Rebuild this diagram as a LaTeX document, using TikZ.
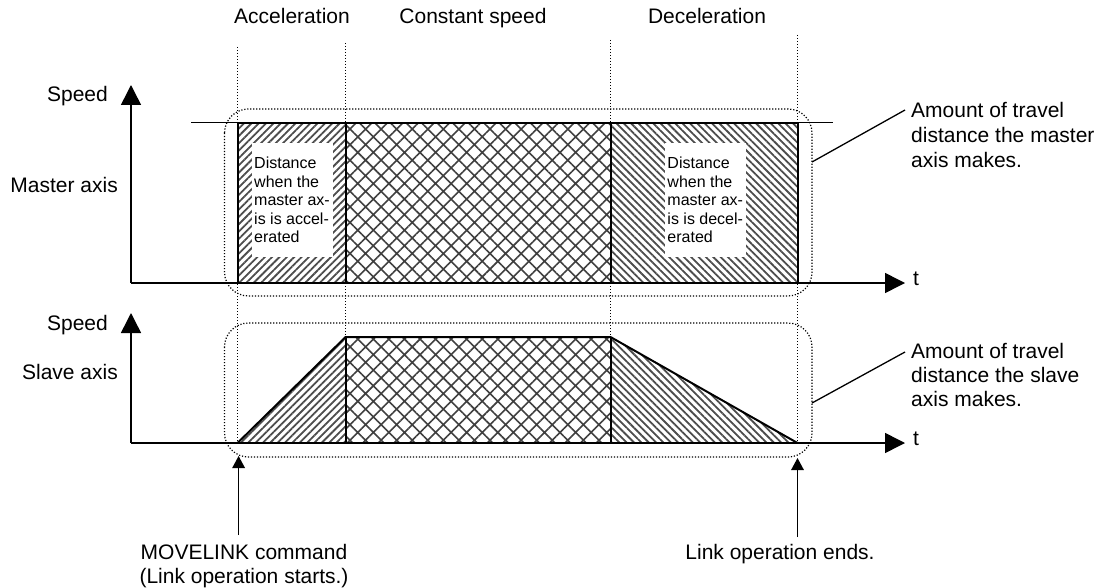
\documentclass[tikz,border=0pt]{standalone}
\usepackage{fontspec}
\setmainfont{Liberation Sans}
\usetikzlibrary{arrows.meta,patterns.meta}
\begin{document}
\begin{tikzpicture}[x=1pt,y=-1pt,
  big/.style={font=\fontsize{21}{24.5}\selectfont, inner sep=0pt},
  smalltxt/.style={font=\fontsize{16}{18.5}\selectfont, inner sep=0pt, fill=white, minimum width=81pt, minimum height=114pt, align=left},
  axisarrow/.style={line width=1.5pt, -{Triangle[length=20pt,width=20pt]}},
  ptr/.style={line width=1.5pt, -{Triangle[length=12pt,width=12.5pt]}},
  guide/.style={line width=1.2pt, dash pattern=on 1.2pt off 1.8pt},
  accel/.style={pattern={Lines[angle=45,distance=5.2pt,line width=1.8pt]}, pattern color=black!70},
  decel/.style={pattern={Lines[angle=-45,distance=5.2pt,line width=1.8pt]}, pattern color=black!70},
  const/.style={pattern={Hatch[angle=45,distance=11pt,line width=1.6pt]}, pattern color=black!75},
  outline/.style={line width=2pt, line join=miter},
  leader/.style={line width=1.3pt},
]
\useasboundingbox (0,0) rectangle (1099,588);

% coordinates
\coordinate (o1) at (131,283);
\coordinate (y1) at (131,85);
\coordinate (x1) at (905,283);
\coordinate (o2) at (131,443);
\coordinate (y2) at (131,313);
\coordinate (x2) at (905,443);

% fills top
\path[accel] (237.5,122.7) rectangle (345.6,283);
\path[const] (345.6,122.7) rectangle (610.5,283);
\path[decel] (610.5,122.7) rectangle (797.5,283);
% fills bottom
\path[accel] (237.5,443) -- (345.6,337) -- (345.6,443) -- cycle;
\path[const] (345.6,337) rectangle (610.5,443);
\path[decel] (610.5,337) -- (797.5,443) -- (610.5,443) -- cycle;

% guides
\draw[guide] (237.5,47) -- (237.5,443);
\draw[guide] (345.6,43) -- (345.6,337);
\draw[guide] (610.5,40) -- (610.5,337);
\draw[guide] (797.5,35) -- (797.5,443);
\draw[guide, rounded corners=24pt] (224.5,109) rectangle (812,296);
\draw[guide, rounded corners=24pt] (224.5,323) rectangle (812,457);

% text boxes
\node[smalltxt] (ta) at (292,200) {Distance\\when the\\master ax-\\is is accel-\\erated};
\node[smalltxt] (td) at (705.25,200) {Distance\\when the\\master ax-\\is is decel-\\erated};

% outlines top
\draw[leader] (191,122.7) -- (832.5,122.7);
\draw[outline] (237.5,122.7) rectangle (797.5,283);
\draw[outline] (345.6,122.7) -- (345.6,283);
\draw[outline] (610.5,122.7) -- (610.5,283);
% outlines bottom
\draw[outline] (237.5,443) -- (345.6,337) -- (610.5,337) -- (797.5,443);
\draw[outline] (345.6,337) -- (345.6,443);
\draw[outline] (610.5,337) -- (610.5,443);
\draw[outline] (237.5,443) -- (797.5,443);

% axes
\draw[axisarrow] (o1) -- (y1);
\draw[axisarrow] (o1) -- (x1);
\draw[axisarrow] (o2) -- (y2);
\draw[axisarrow] (o2) -- (x2);

% headers
\node[big, anchor=mid] (h1) at (292,21) {Acceleration};
\node[big, anchor=mid] (h2) at (473,21) {Constant speed};
\node[big, anchor=mid] (h3) at (707,21) {Deceleration};

% axis labels
\node[big, anchor=mid east] (sp1) at (108,99) {Speed};
\node[big, anchor=mid east] (ma) at (118,190) {Master axis};
\node[big, anchor=mid east] (sp2) at (108,328) {Speed};
\node[big, anchor=mid east] (sa) at (118,377) {Slave axis};
\node[big, anchor=mid west] (t1) at (913,283) {t};
\node[big, anchor=mid west] (t2) at (913,443) {t};

% right labels
\node[big, anchor=west, align=left, font=\fontsize{21}{25}\selectfont] (am) at (911,135) {Amount of travel\\distance the master\\axis makes.};
\node[big, anchor=west, align=left, font=\fontsize{21}{24}\selectfont] (as) at (911,375) {Amount of travel\\distance the slave\\axis makes.};
\coordinate (l1a) at (812,162);
\coordinate (l1b) at (905,110);
\coordinate (l2a) at (812,403);
\coordinate (l2b) at (905,352);
\draw[leader] (l1a) -- (l1b);
\draw[leader] (l2a) -- (l2b);

% bottom labels
\node[big, anchor=north, align=center, font=\fontsize{21}{24}\selectfont] (mv) at (244,544) {MOVELINK command\\(Link operation starts.)};
\node[big, anchor=north] (le) at (780,544) {Link operation ends.};
\coordinate (sa1) at (238.6,535);
\coordinate (sa2) at (238.6,456);
\coordinate (ea1) at (797.5,537);
\coordinate (ea2) at (797.5,458);
\draw[ptr] (sa1) -- (sa2);
\draw[ptr] (ea1) -- (ea2);
\end{tikzpicture}
\end{document}
